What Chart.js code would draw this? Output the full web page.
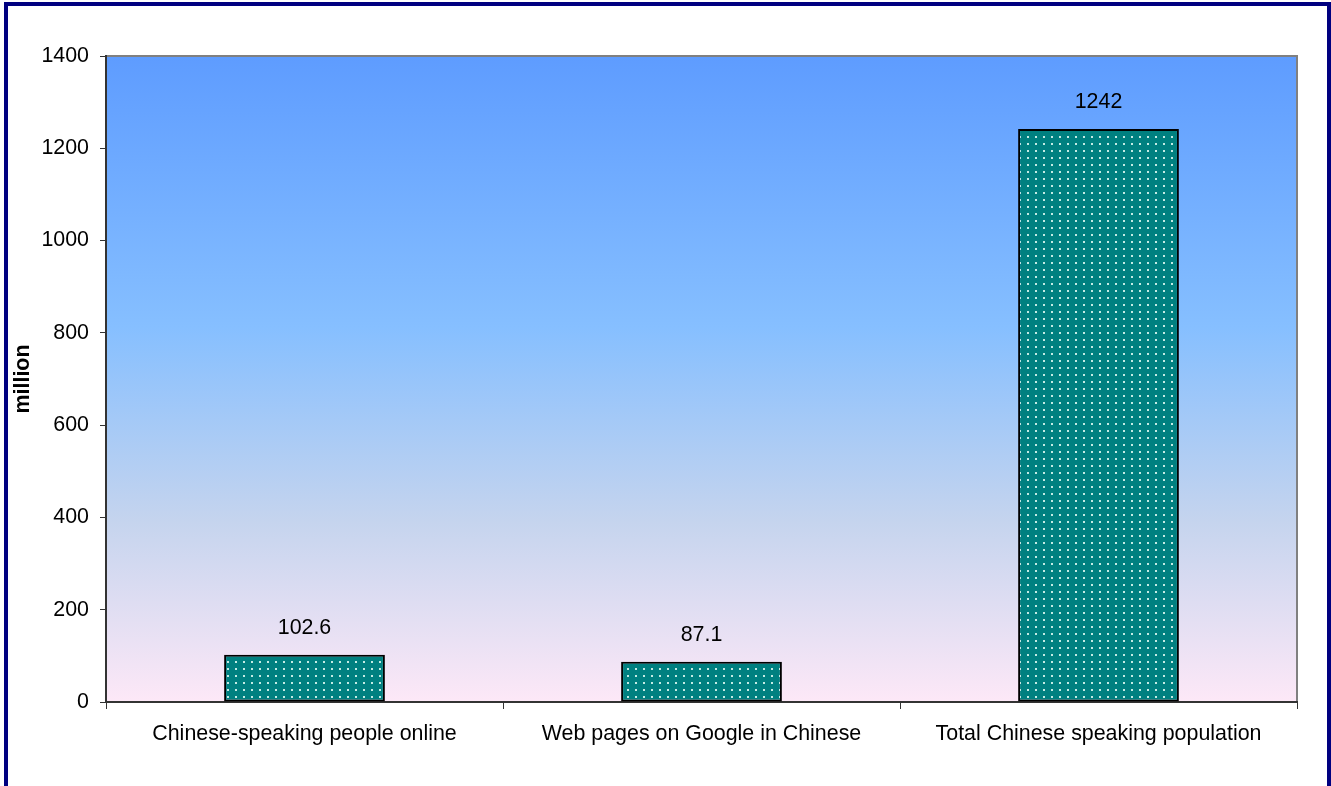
<!DOCTYPE html>
<html>
<head>
<meta charset="utf-8">
<script src="https://cdn.jsdelivr.net/npm/chart.js@4.4.0/dist/chart.umd.min.js"></script>
<style>
html,body{margin:0;padding:0;background:#fff;}
#wrap{width:1331px;height:786px;position:relative;}
</style>
</head>
<body>
<div id="wrap"><canvas id="c" width="1331" height="786"></canvas></div>
<script>
const categories = ["Chinese-speaking people online", "Web pages on Google in Chinese", "Total Chinese speaking population"];
const values = [102.6, 87.1, 1242];
const valueLabels = ["102.6", "87.1", "1242"];
const yTicks = [0, 200, 400, 600, 800, 1000, 1200, 1400];
const yTitle = "million";

const FONT = "'Liberation Sans', Arial, Helvetica, sans-serif";
const FS = 21.4;

function makePattern() {
  const p = document.createElement('canvas');
  p.width = 8; p.height = 7;
  const g = p.getContext('2d');
  g.fillStyle = '#008080';
  g.fillRect(0, 0, 8, 7);
  g.fillStyle = '#c4ebe4';
  g.fillRect(3, 3, 2, 2);
  return g.createPattern(p, 'repeat');
}

const bgPlugin = {
  id: 'bg',
  beforeDraw(chart) {
    const ctx = chart.ctx;
    const a = chart.chartArea;
    ctx.save();
    ctx.fillStyle = '#ffffff';
    ctx.fillRect(0, 0, chart.width, chart.height);
    const grad = ctx.createLinearGradient(0, a.top, 0, a.bottom);
    grad.addColorStop(0, '#5e9cff');
    grad.addColorStop(0.42, '#86bfff');
    grad.addColorStop(0.72, '#c5d4ee');
    grad.addColorStop(1, '#fde8f7');
    ctx.fillStyle = grad;
    ctx.fillRect(a.left, a.top, a.right - a.left, a.bottom - a.top);
    ctx.strokeStyle = '#808080';
    ctx.lineWidth = 2;
    ctx.beginPath();
    ctx.moveTo(a.left, a.top);
    ctx.lineTo(a.right, a.top);
    ctx.lineTo(a.right, a.bottom);
    ctx.stroke();
    ctx.fillStyle = '#000080';
    ctx.fillRect(4, 2, 1327, 4);
    ctx.fillRect(4, 2, 4, 784);
    ctx.fillRect(1327, 2, 4, 784);
    ctx.restore();
  },
  afterDatasetsDraw(chart) {
    const ctx = chart.ctx;
    const meta = chart.getDatasetMeta(0);
    ctx.save();
    ctx.fillStyle = '#000';
    ctx.font = FS + 'px ' + FONT;
    ctx.textAlign = 'center';
    ctx.textBaseline = 'middle';
    meta.data.forEach((bar, i) => {
      ctx.fillText(valueLabels[i], bar.x, bar.y - 27);
    });
    ctx.restore();
  }
};

new Chart(document.getElementById('c'), {
  type: 'bar',
  data: {
    labels: categories,
    datasets: [{
      data: values,
      backgroundColor: makePattern(),
      borderColor: '#000',
      borderWidth: 2,
      borderSkipped: false,
      categoryPercentage: 1,
      barPercentage: 0.405
    }]
  },
  options: {
    responsive: false,
    animation: false,
    devicePixelRatio: 1,
    layout: { padding: { left: 0, top: 56, right: 34, bottom: 0 } },
    plugins: { legend: { display: false }, tooltip: { enabled: false } },
    scales: {
      x: {
        grid: {
          display: true, drawOnChartArea: false, drawTicks: true,
          tickLength: 7, color: '#333', offset: true
        },
        border: { display: true, color: '#333', width: 2 },
        ticks: { color: '#000', font: { family: FONT, size: FS }, padding: 12, maxRotation: 0 },
        afterFit(s) { s.height = 84; }
      },
      y: {
        min: 0, max: 1400,
        afterBuildTicks(s) { s.ticks = yTicks.map(v => ({ value: v })); },
        grid: { display: true, drawOnChartArea: false, drawTicks: true, tickLength: 6, color: '#333' },
        border: { display: true, color: '#333', width: 2 },
        ticks: { color: '#000', font: { family: FONT, size: FS }, padding: 11, callback: v => String(v) },
        title: { display: true, text: yTitle, color: '#000', font: { family: FONT, size: FS, weight: 'bold' }, padding: { top: 10, bottom: 0 } },
        afterFit(s) { s.width = 106; }
      }
    }
  },
  plugins: [bgPlugin]
});
</script>
</body>
</html>
